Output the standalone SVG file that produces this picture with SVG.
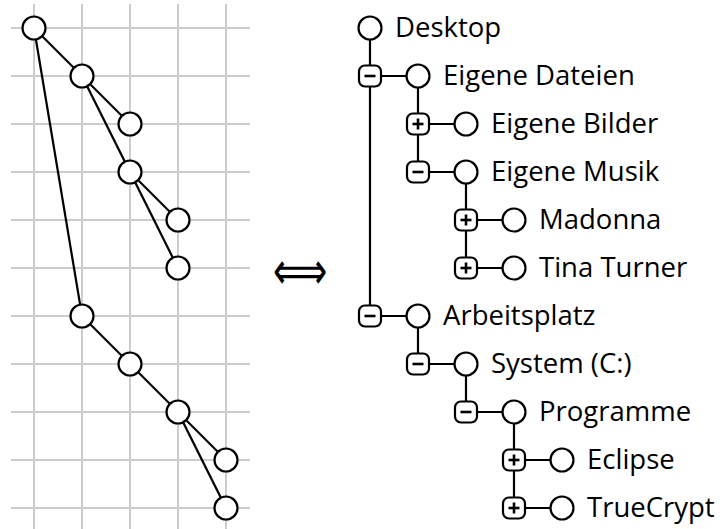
<svg xmlns="http://www.w3.org/2000/svg" width="723" height="529" viewBox="0 0 723 529">
<style>
.grid line{stroke:#cccccc;stroke-width:2}
.edge{stroke:#000;stroke-width:2.2;fill:none}
.n{fill:#fff;stroke:#000;stroke-width:2.2}
.box{fill:#fff;stroke:#000;stroke-width:2.2}
.sign{stroke:#000;stroke-width:2.6;fill:none}
.lbl{font-family:"Open Sans","Noto Sans",sans-serif;font-size:27.5px;fill:#000}
.sym{font-family:"DejaVu Sans",sans-serif;font-size:38px;fill:#000}
</style>
<defs>
<rect id="bx" class="box" x="-11" y="-10.5" width="22" height="21" rx="6"/>
<g id="minus"><use href="#bx"/><line class="sign" x1="-5.5" y1="0" x2="5.5" y2="0"/></g>
<g id="plus"><use href="#bx"/><line class="sign" x1="-5.5" y1="0" x2="5.5" y2="0"/><line class="sign" x1="0" y1="-5.5" x2="0" y2="5.5"/></g>
</defs>
<rect width="723" height="529" fill="#fff"/>
<g class="grid">
<line x1="34" y1="4" x2="34" y2="532"/><line x1="82" y1="4" x2="82" y2="532"/><line x1="130" y1="4" x2="130" y2="532"/><line x1="178" y1="4" x2="178" y2="532"/><line x1="226" y1="4" x2="226" y2="532"/>
<line x1="11" y1="28" x2="250" y2="28"/><line x1="11" y1="76" x2="250" y2="76"/><line x1="11" y1="124" x2="250" y2="124"/><line x1="11" y1="172" x2="250" y2="172"/><line x1="11" y1="220" x2="250" y2="220"/><line x1="11" y1="268" x2="250" y2="268"/><line x1="11" y1="316" x2="250" y2="316"/><line x1="11" y1="364" x2="250" y2="364"/><line x1="11" y1="412" x2="250" y2="412"/><line x1="11" y1="460" x2="250" y2="460"/><line x1="11" y1="508" x2="250" y2="508"/>
</g>
<g id="connectors" class="edge">
<line x1="34" y1="28" x2="82" y2="76"/><line x1="82" y1="76" x2="130" y2="124"/><line x1="82" y1="76" x2="130" y2="172"/><line x1="130" y1="172" x2="178" y2="220"/><line x1="130" y1="172" x2="178" y2="268"/><line x1="34" y1="28" x2="82" y2="316"/><line x1="82" y1="316" x2="130" y2="364"/><line x1="130" y1="364" x2="178" y2="412"/><line x1="178" y1="412" x2="226" y2="460"/><line x1="178" y1="412" x2="226" y2="508"/>
<line x1="370" y1="28" x2="370" y2="316"/><line x1="418" y1="76" x2="418" y2="172"/><line x1="466" y1="172" x2="466" y2="268"/><line x1="418" y1="316" x2="418" y2="364"/><line x1="466" y1="364" x2="466" y2="412"/><line x1="514" y1="412" x2="514" y2="508"/>
<line x1="370" y1="76" x2="418" y2="76"/><line x1="418" y1="124" x2="466" y2="124"/><line x1="418" y1="172" x2="466" y2="172"/><line x1="466" y1="220" x2="514" y2="220"/><line x1="466" y1="268" x2="514" y2="268"/><line x1="370" y1="316" x2="418" y2="316"/><line x1="418" y1="364" x2="466" y2="364"/><line x1="466" y1="412" x2="514" y2="412"/><line x1="514" y1="460" x2="562" y2="460"/><line x1="514" y1="508" x2="562" y2="508"/>
</g>
<g id="left-nodes">
<circle id="l1" class="n" cx="34" cy="28" r="11.5"/><circle id="l2" class="n" cx="82" cy="76" r="11.5"/><circle id="l3" class="n" cx="130" cy="124" r="11.5"/><circle id="l4" class="n" cx="130" cy="172" r="11.5"/><circle id="l5" class="n" cx="178" cy="220" r="11.5"/><circle id="l6" class="n" cx="178" cy="268" r="11.5"/><circle id="l7" class="n" cx="82" cy="316" r="11.5"/><circle id="l8" class="n" cx="130" cy="364" r="11.5"/><circle id="l9" class="n" cx="178" cy="412" r="11.5"/><circle id="l10" class="n" cx="226" cy="460" r="11.5"/><circle id="l11" class="n" cx="226" cy="508" r="11.5"/>
</g>
<text class="sym" x="0" y="0" text-anchor="middle" transform="translate(300 270.5) scale(1 1.4) translate(0 13)">⟺</text>
<g id="desktop"><circle class="n" cx="370" cy="28" r="11.5"/><text class="lbl" x="395" y="37">Desktop</text></g>
<g id="eigene-dateien"><use href="#minus" x="370" y="76"/><circle class="n" cx="418" cy="76" r="11.5"/><text class="lbl" x="443" y="85">Eigene Dateien</text></g>
<g id="eigene-bilder"><use href="#plus" x="418" y="124"/><circle class="n" cx="466" cy="124" r="11.5"/><text class="lbl" x="491" y="133">Eigene Bilder</text></g>
<g id="eigene-musik"><use href="#minus" x="418" y="172"/><circle class="n" cx="466" cy="172" r="11.5"/><text class="lbl" x="491" y="181">Eigene Musik</text></g>
<g id="madonna"><use href="#plus" x="466" y="220"/><circle class="n" cx="514" cy="220" r="11.5"/><text class="lbl" x="539" y="229">Madonna</text></g>
<g id="tina-turner"><use href="#plus" x="466" y="268"/><circle class="n" cx="514" cy="268" r="11.5"/><text class="lbl" x="539" y="277">Tina Turner</text></g>
<g id="arbeitsplatz"><use href="#minus" x="370" y="316"/><circle class="n" cx="418" cy="316" r="11.5"/><text class="lbl" x="443" y="325">Arbeitsplatz</text></g>
<g id="system"><use href="#minus" x="418" y="364"/><circle class="n" cx="466" cy="364" r="11.5"/><text class="lbl" x="491" y="373">System (C:)</text></g>
<g id="programme"><use href="#minus" x="466" y="412"/><circle class="n" cx="514" cy="412" r="11.5"/><text class="lbl" x="539" y="421">Programme</text></g>
<g id="eclipse"><use href="#plus" x="514" y="460"/><circle class="n" cx="562" cy="460" r="11.5"/><text class="lbl" x="587" y="469">Eclipse</text></g>
<g id="truecrypt"><use href="#plus" x="514" y="508"/><circle class="n" cx="562" cy="508" r="11.5"/><text class="lbl" x="587" y="517">TrueCrypt</text></g>
</svg>
